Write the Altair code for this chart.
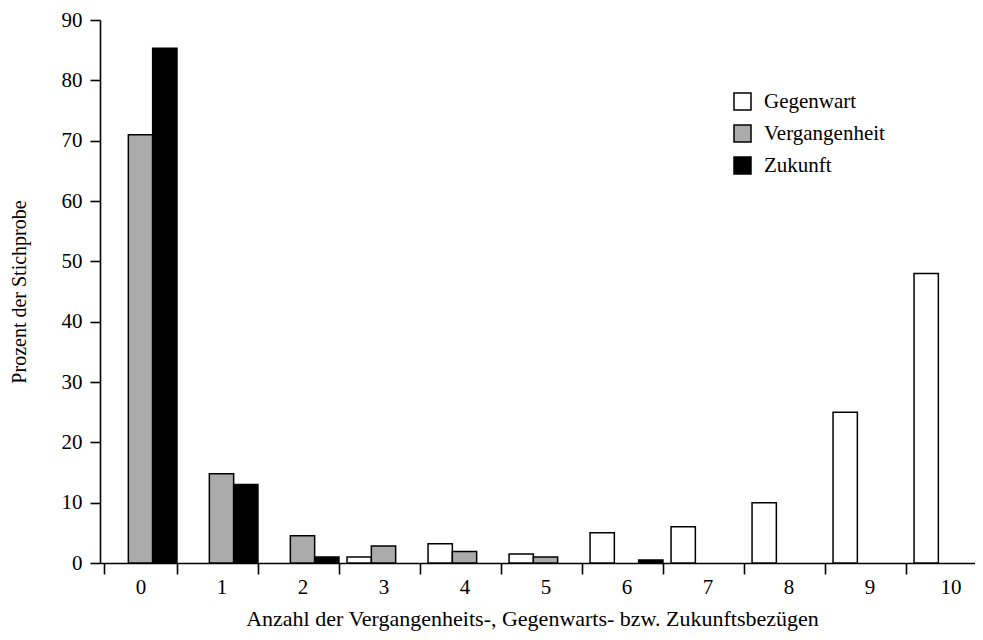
import altair as alt
import pandas as pd

categories = [str(i) for i in range(11)]
series = ["Gegenwart", "Vergangenheit", "Zukunft"]
gegenwart = [0, 0, 0, 1.0, 3.2, 1.5, 5.0, 6.0, 10.0, 25.0, 48.0]
vergangenheit = [71.0, 14.8, 4.5, 2.8, 1.9, 1.0, 0, 0, 0, 0, 0]
zukunft = [85.3, 13.0, 1.0, 0, 0, 0, 0.5, 0, 0, 0, 0]
colors = ["#ffffff", "#ababab", "#000000"]

rows = []
for name, vals in zip(series, [gegenwart, vergangenheit, zukunft]):
    for c, v in zip(categories, vals):
        if v > 0:
            rows.append({"Anzahl": c, "Serie": name, "Wert": v})
df = pd.DataFrame(rows)

FONT = "Liberation Serif"

chart = alt.Chart(df).mark_bar(stroke="black", strokeWidth=1.5).encode(
    x=alt.X("Anzahl:N", sort=categories,
            scale=alt.Scale(domain=categories, range=[0, 891], paddingInner=0.1, paddingOuter=0.05),
            axis=alt.Axis(title="Anzahl der Vergangenheits-, Gegenwarts- bzw. Zukunftsbezügen",
                          labelAngle=0, tickBand="extent", tickSize=11, labelPadding=2,
                          labelFontSize=21, titleFontSize=22, titlePadding=11,
                          titleX=432, titleAlign="center")),
    xOffset=alt.XOffset("Serie:N", scale=alt.Scale(domain=series)),
    y=alt.Y("Wert:Q", scale=alt.Scale(domain=[0, 90], nice=False),
            axis=alt.Axis(title="Prozent der Stichprobe", values=list(range(0, 100, 10)),
                          tickSize=10, labelPadding=8, titlePadding=32, grid=False,
                          labelFontSize=21, titleFontSize=20)),
    fill=alt.Fill("Serie:N", scale=alt.Scale(domain=series, range=colors),
                  legend=alt.Legend(title=None, orient="none", legendX=632, legendY=71,
                                    symbolType="square", symbolSize=289,
                                    symbolStrokeColor="black", symbolStrokeWidth=1.5,
                                    labelFont=FONT, labelFontSize=21, labelColor="black",
                                    labelOffset=11, rowPadding=9)),
).properties(
    width=875, height=543,
    autosize=alt.AutoSizeParams(type="none"),
    padding={"left": 92, "top": 12, "right": 0, "bottom": 69},
).configure_view(stroke=None).configure_axis(
    domainColor="black", domainWidth=1.6, tickColor="black", tickWidth=1.6,
    labelFont=FONT, labelColor="black",
    titleFont=FONT, titleFontWeight="normal", titleColor="black",
    grid=False,
)

chart.save("out.html", embed_options={"renderer": "svg", "actions": False})
